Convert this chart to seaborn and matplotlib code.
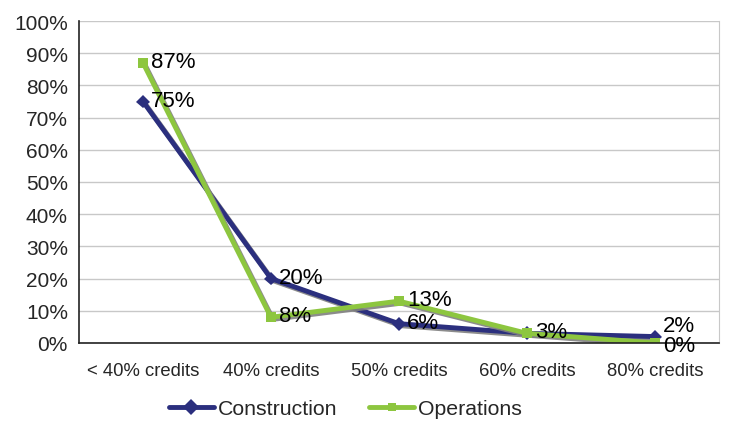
import matplotlib
matplotlib.use("Agg")
import matplotlib.pyplot as plt
import matplotlib.patheffects as pe
from matplotlib.lines import Line2D
import seaborn as sns
import pandas as pd
import numpy as np

categories = ["< 40% credits", "40% credits", "50% credits", "60% credits", "80% credits"]
construction = [75, 20, 6, 3, 2]
operations = [87, 8, 13, 3, 0]
yticks = list(range(0, 101, 10))

sns.set_style("white")
plt.rcParams['font.family'] = ['Liberation Sans', 'DejaVu Sans']

navy = "#2B2F7E"
green = "#8DC63F"

df = pd.DataFrame({
    "cat": list(range(len(categories))) * 2,
    "val": construction + operations,
    "series": ["Construction"] * len(categories) + ["Operations"] * len(categories),
})

fig = plt.figure(figsize=(7.29, 4.27), dpi=100)
ax = fig.add_axes([79 / 729, 1 - 344 / 427, 640 / 729, 322 / 427])

shadow = [pe.SimpleLineShadow(offset=(1.5, -1.5), shadow_color="gray", alpha=0.9), pe.Normal()]

sns.lineplot(data=df, x="cat", y="val", hue="series", style="series",
             palette={"Construction": navy, "Operations": green},
             markers={"Construction": "D", "Operations": "s"},
             dashes=False, markersize=7, linewidth=3.5, markeredgewidth=0,
             legend=False, ax=ax, sort=False)
for ln in ax.lines:
    ln.set_path_effects(shadow)

ax.set_xlim(-0.5, len(categories) - 0.5)
ax.set_ylim(0, 100)
ax.set_yticks(yticks)
ax.set_yticklabels([f"{t}%" for t in yticks], fontsize=15)
ax.set_xticks(range(len(categories)))
ax.set_xticklabels(categories, fontsize=13.3)
ax.set_xticks(np.arange(-0.5, len(categories), 1.0), minor=True)
ax.tick_params(axis="x", which="major", length=0, pad=14)
ax.tick_params(axis="x", which="minor", length=5, width=1, color="#333333", direction="out")
ax.tick_params(axis="y", which="major", length=5, width=1, color="#333333", direction="out", pad=3)
ax.set_xlabel("")
ax.set_ylabel("")
ax.yaxis.grid(True, color="#C8C8C8", linewidth=1)
ax.set_axisbelow(True)
ax.spines["top"].set_visible(False)
ax.spines["right"].set_color("#C8C8C8")
ax.spines["left"].set_color("#222222")
ax.spines["bottom"].set_color("#222222")
ax.spines["left"].set_linewidth(1.2)
ax.spines["bottom"].set_linewidth(1.2)

nudges = {("Construction", 4): 8, ("Operations", 4): -2}
drawn = set()
for name, vals in [("Construction", construction), ("Operations", operations)]:
    for i, v in enumerate(vals):
        if (i, v) in drawn:
            continue
        drawn.add((i, v))
        dy = nudges.get((name, i), 1)
        ax.annotate(f"{v}%", (i, v), xytext=(6, dy), textcoords="offset points",
                    ha="left", va="center", fontsize=16, color="black")

handles = [Line2D([], [], color=navy, marker="D", markersize=8, linewidth=3.5, markeredgewidth=0),
           Line2D([], [], color=green, marker="s", markersize=6, linewidth=3.5, markeredgewidth=0)]
fig.legend(handles, ["Construction", "Operations"], loc="center", bbox_to_anchor=(0.474, 0.04),
           ncol=2, frameon=False, fontsize=15.3, handlelength=2.1, handletextpad=0.2, columnspacing=1.5)

fig.savefig("out.png", dpi=100)
